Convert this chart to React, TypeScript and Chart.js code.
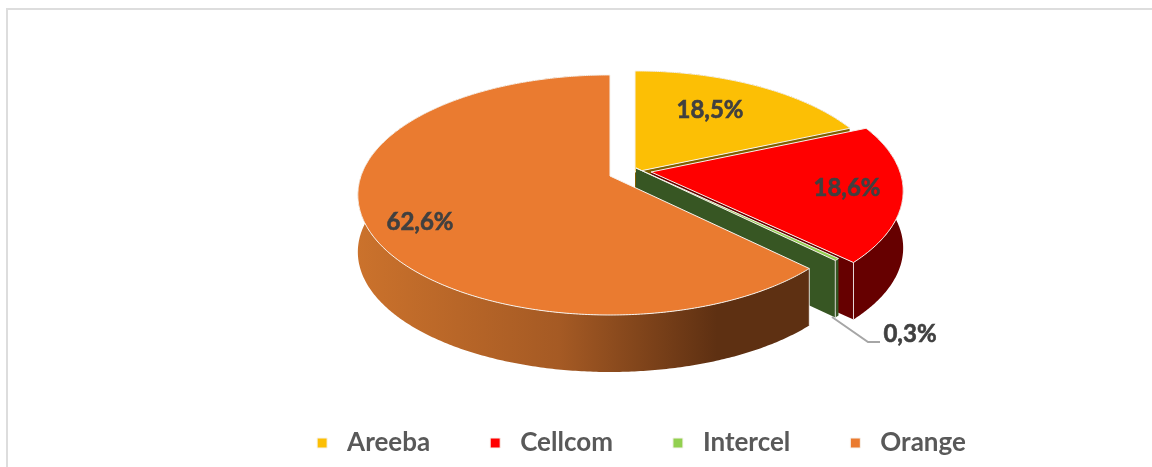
import React, { useEffect, useRef } from "react";
import { Chart, registerables } from "chart.js";

Chart.register(...registerables);

const categories = ["Areeba", "Cellcom", "Intercel", "Orange"];
const shares = [18.5, 18.6, 0.3, 62.6];
const topColors = ["#FCBF05", "#FF0000", "#92D050", "#EA7B30"];
const wallColors = ["#7F6000", "#660000", "#375623", "#5E3012"];

// Layout of the tilted, exploded pie (styling only)
const RADIUS = 249;
const TILT = 0.47;
const PERSPECTIVE = 0.158;
const WALL = 57;
const apexes = [
  [635, 172],
  [651, 172],
  [636, 168],
  [610, 176],
];
const labelSpots = [
  [710, 110],
  [847, 188],
  [910, 334],
  [420, 222],
];
const FONT = "Lato, Carlito, Calibri, sans-serif";

const fmt = (v: number) => v.toFixed(1).replace(".", ",") + "%";

function project(i: number, angle: number, r: number) {
  const u = r * Math.cos(angle);
  const v = r * Math.sin(angle);
  const s = 1 / (1 - (PERSPECTIVE * v) / r);
  return [apexes[i][0] + u * s, apexes[i][1] + TILT * v * s];
}

function arcPoints(i: number, a0: number, a1: number, r: number) {
  const n = Math.max(2, Math.ceil(Math.abs(a1 - a0) / 0.01));
  const pts: number[][] = [];
  for (let k = 0; k <= n; k++) pts.push(project(i, a0 + ((a1 - a0) * k) / n, r));
  return pts;
}

function trace(ctx: CanvasRenderingContext2D, pts: number[][]) {
  ctx.beginPath();
  pts.forEach((p, k) => (k ? ctx.lineTo(p[0], p[1]) : ctx.moveTo(p[0], p[1])));
  ctx.closePath();
}

const pie3d = {
  id: "pie3d",
  beforeDatasetDraw() {
    return false;
  },
  beforeDatasetsDraw(chart: any) {
    const ctx: CanvasRenderingContext2D = chart.ctx;
    const arcs = chart.getDatasetMeta(0).data;
    ctx.save();
    ctx.lineJoin = "round";
    arcs.forEach((arc: any, i: number) => {
      const { startAngle, endAngle, outerRadius } = arc;
      const pts = arcPoints(i, startAngle, endAngle, outerRadius);
      const apex = apexes[i];
      const corner = pts[pts.length - 1];
      const drop = (p: number[]) => [p[0], p[1] + WALL];

      let wall: any = wallColors[i];
      if (i === 3) {
        const g = ctx.createLinearGradient(357, 0, 807, 0);
        g.addColorStop(0, "#CB722C");
        g.addColorStop(0.45, "#A55A24");
        g.addColorStop(0.8, "#5E3012");
        g.addColorStop(1, "#5E3012");
        wall = g;
      }
      // cut face at the slice's clockwise end; the last slice's is edge-on
      if (i < 3) {
        trace(ctx, [apex, corner, drop(corner), drop(apex)]);
        ctx.fillStyle = wallColors[i];
        ctx.fill();
      }
      // outer wall
      trace(ctx, [...pts, ...pts.map(drop).reverse()]);
      ctx.fillStyle = wall;
      ctx.fill();
      // vertical seam at the visible corner
      const seam = i < 3 ? corner : pts[0];
      ctx.strokeStyle = "rgba(255,255,255,0.8)";
      ctx.lineWidth = 1;
      ctx.beginPath();
      ctx.moveTo(seam[0], seam[1]);
      ctx.lineTo(seam[0], seam[1] + WALL);
      ctx.stroke();
      // top face
      trace(ctx, [apex, ...pts]);
      ctx.fillStyle = arc.options.backgroundColor;
      ctx.fill();
      ctx.strokeStyle = arc.options.borderColor;
      ctx.lineWidth = arc.options.borderWidth;
      ctx.stroke();
    });
    ctx.restore();
  },
  afterDatasetsDraw(chart: any) {
    const ctx: CanvasRenderingContext2D = chart.ctx;
    ctx.save();
    ctx.strokeStyle = "#A6A6A6";
    ctx.lineWidth = 2;
    ctx.beginPath();
    ctx.moveTo(832, 317);
    ctx.lineTo(868, 342);
    ctx.lineTo(880, 342);
    ctx.stroke();
    ctx.fillStyle = "#404040";
    ctx.strokeStyle = "#404040";
    ctx.lineWidth = 0.6;
    ctx.font = `bold 24px ${FONT}`;
    ctx.textAlign = "center";
    ctx.textBaseline = "middle";
    shares.forEach((v, i) => {
      ctx.fillText(fmt(v), labelSpots[i][0], labelSpots[i][1]);
      ctx.strokeText(fmt(v), labelSpots[i][0], labelSpots[i][1]);
    });
    ctx.restore();
  },
  beforeDraw(chart: any) {
    const lg = chart.legend;
    lg.top = 442 - 13 - 52;
    lg.left = 62;
    lg.right = 1152 + 62;
  },
};

export default function App() {
  const ref = useRef<HTMLCanvasElement>(null);
  useEffect(() => {
    const chart = new Chart(ref.current!, {
      type: "pie",
      data: {
        labels: categories,
        datasets: [
          {
            data: shares,
            backgroundColor: topColors,
            borderColor: "#F7F3EE",
            borderWidth: 1,
          },
        ],
      },
      options: {
        animation: false,
        responsive: false,
        radius: RADIUS,
        plugins: {
          tooltip: { enabled: false },
          legend: {
            position: "bottom",
            labels: {
              usePointStyle: true,
              pointStyle: "rect",
              boxWidth: 24,
              boxHeight: 10,
              padding: 53,
              color: "#595959",
              font: { family: FONT, size: 26, weight: "bold" },
            },
          },
        },
      } as any,
      plugins: [pie3d as any],
    });
    return () => chart.destroy();
  }, []);
  return (
    <div style={{ position: "fixed", inset: 0, overflow: "hidden", background: "#fff" }}>
      <div
        style={{
          position: "absolute",
          left: 6,
          top: 8,
          width: 2000,
          height: 2000,
          borderTop: "2px solid #DDDDDD",
          borderLeft: "2px solid #DDDDDD",
        }}
      />
      <canvas
        ref={ref}
        width={1152}
        height={467}
        style={{ position: "absolute", left: 0, top: 0, display: "block" }}
      />
    </div>
  );
}
